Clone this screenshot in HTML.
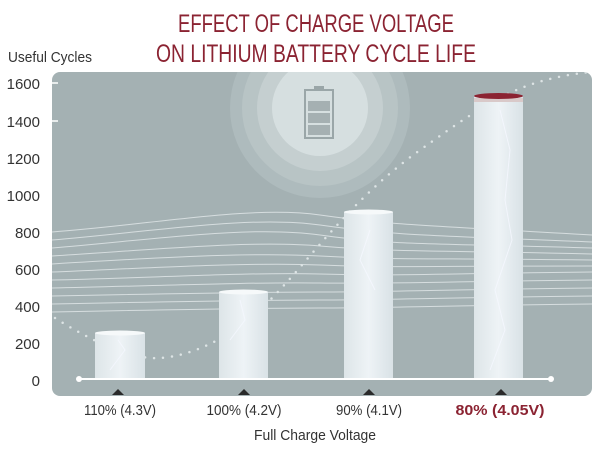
<!DOCTYPE html>
<html><head><meta charset="utf-8"><style>
body{margin:0;background:#fff;width:600px;height:451px;overflow:hidden}
svg text{font-family:"Liberation Sans Narrow","Liberation Sans",sans-serif}
</style></head><body>
<svg width="600" height="451" viewBox="0 0 600 451" xmlns="http://www.w3.org/2000/svg">
<defs>
<linearGradient id="bar" x1="0" x2="1"><stop offset="0" stop-color="#dde5e8"/><stop offset="0.5" stop-color="#eef3f6"/><stop offset="1" stop-color="#d9e2e6"/></linearGradient>
<clipPath id="pc"><rect x="52" y="72" width="540" height="324" rx="8"/></clipPath>
</defs>
<text x="316" y="32" font-size="25" fill="#8b2332" text-anchor="middle" textLength="276" lengthAdjust="spacingAndGlyphs">EFFECT OF CHARGE VOLTAGE</text>
<text x="316" y="62" font-size="25" fill="#8b2332" text-anchor="middle" textLength="320" lengthAdjust="spacingAndGlyphs">ON LITHIUM BATTERY CYCLE LIFE</text>
<text x="8" y="62" font-size="15" fill="#333" textLength="84" lengthAdjust="spacingAndGlyphs">Useful Cycles</text>
<rect x="52" y="72" width="540" height="324" rx="8" fill="#a4b1b3"/>
<g clip-path="url(#pc)">
<circle cx="320" cy="108" r="90" fill="#aebbbd"/>
<circle cx="320" cy="108" r="78" fill="#b8c4c5"/>
<circle cx="320" cy="108" r="63" fill="#c5cfd0"/>
<circle cx="320" cy="108" r="48" fill="#d6dfe0"/>
<g fill="none" stroke="#e3e9ea" stroke-width="1" opacity="0.8">
<path d="M52 232 C150 225,250 205,320 215 S420 225,592 235"/>
<path d="M52 240 C150 232,250 215,320 225 S420 235,592 242"/>
<path d="M52 248 C150 240,250 225,320 235 S420 243,592 248"/>
<path d="M52 256 C150 250,250 240,320 246 S420 250,592 254"/>
<path d="M52 264 C150 258,250 252,320 256 S420 258,592 260"/>
<path d="M52 272 C150 268,250 262,320 265 S420 266,592 266"/>
<path d="M52 280 C150 278,250 272,320 274 S420 274,592 272"/>
<path d="M52 288 C150 286,250 282,320 283 S420 282,592 280"/>
<path d="M52 296 C150 294,250 292,320 292 S420 290,592 288"/>
<path d="M52 304 C150 302,250 300,320 300 S420 298,592 296"/>
<path d="M52 312 C150 310,250 308,320 308 S420 306,592 304"/>
</g>
<path d="M55 318 C90 340,130 360,160 358 S230 340,270 300 S350 200,420 150 S520 80,590 72" fill="none" stroke="#dde4e5" stroke-width="2.5" stroke-dasharray="0 9" stroke-linecap="round"/>
</g>
<rect x="305" y="90" width="28" height="48" fill="none" stroke="#9aa6a8" stroke-width="2"/>
<rect x="314" y="86" width="10" height="4" fill="#9aa6a8"/>
<rect x="308" y="101" width="22" height="10" fill="#a5b0b2"/><rect x="308" y="113" width="22" height="10" fill="#a5b0b2"/><rect x="308" y="125" width="22" height="10" fill="#a5b0b2"/>
<rect x="95" y="333" width="50" height="46" fill="url(#bar)"/><ellipse cx="120" cy="333" rx="25" ry="2.5" fill="#f6f9fa"/>
<rect x="219" y="292" width="49" height="87" fill="url(#bar)"/><ellipse cx="243.5" cy="292" rx="24.5" ry="2.5" fill="#f6f9fa"/>
<rect x="344" y="212" width="49" height="167" fill="url(#bar)"/><ellipse cx="368.5" cy="212" rx="24.5" ry="2.5" fill="#f6f9fa"/>
<rect x="474" y="96" width="49" height="283" fill="url(#bar)"/><rect x="474" y="98" width="49" height="4" fill="#d9c9c9"/><ellipse cx="498.5" cy="96" rx="24.5" ry="3" fill="#8b2332"/>
<g fill="none" stroke="#f5f8ff" stroke-width="1" opacity="0.8">
<path d="M500 110 L510 150 L505 200 L512 240 L495 290 L505 330 L490 370"/>
<path d="M230 340 L245 320 L240 300 M370 230 L360 260 L375 290"/>
<path d="M110 370 L125 350 L118 340"/>
</g>
<line x1="79" y1="379" x2="551" y2="379" stroke="#fff" stroke-width="2"/>
<circle cx="79" cy="379" r="3" fill="#fff"/><circle cx="551" cy="379" r="3" fill="#fff"/>
<g fill="#2a2a2a"><path d="M112 395 L118 389 L124 395Z"/><path d="M238 395 L244 389 L250 395Z"/><path d="M363 395 L369 389 L375 395Z"/><path d="M495 395 L501 389 L507 395Z"/></g>
<g font-size="15" fill="#333" text-anchor="end">
<text x="40" y="89">1600</text><text x="40" y="127">1400</text><text x="40" y="164">1200</text><text x="40" y="201">1000</text><text x="40" y="238">800</text><text x="40" y="275">600</text><text x="40" y="312">400</text><text x="40" y="349">200</text><text x="40" y="386">0</text>
</g>
<g stroke="#fff" stroke-width="1.5"><line x1="52" y1="83" x2="58" y2="83"/><line x1="52" y1="121" x2="58" y2="121"/></g>
<g font-size="15" fill="#333" text-anchor="middle">
<text x="120" y="415" textLength="72" lengthAdjust="spacingAndGlyphs">110% (4.3V)</text><text x="244" y="415" textLength="75" lengthAdjust="spacingAndGlyphs">100% (4.2V)</text><text x="369" y="415" textLength="66" lengthAdjust="spacingAndGlyphs">90% (4.1V)</text>
<text x="500" y="415" fill="#8b2332" font-weight="bold" textLength="89" lengthAdjust="spacingAndGlyphs">80% (4.05V)</text>
<text x="315" y="440" textLength="122" lengthAdjust="spacingAndGlyphs">Full Charge Voltage</text>
</g>
</svg>
</body></html>
